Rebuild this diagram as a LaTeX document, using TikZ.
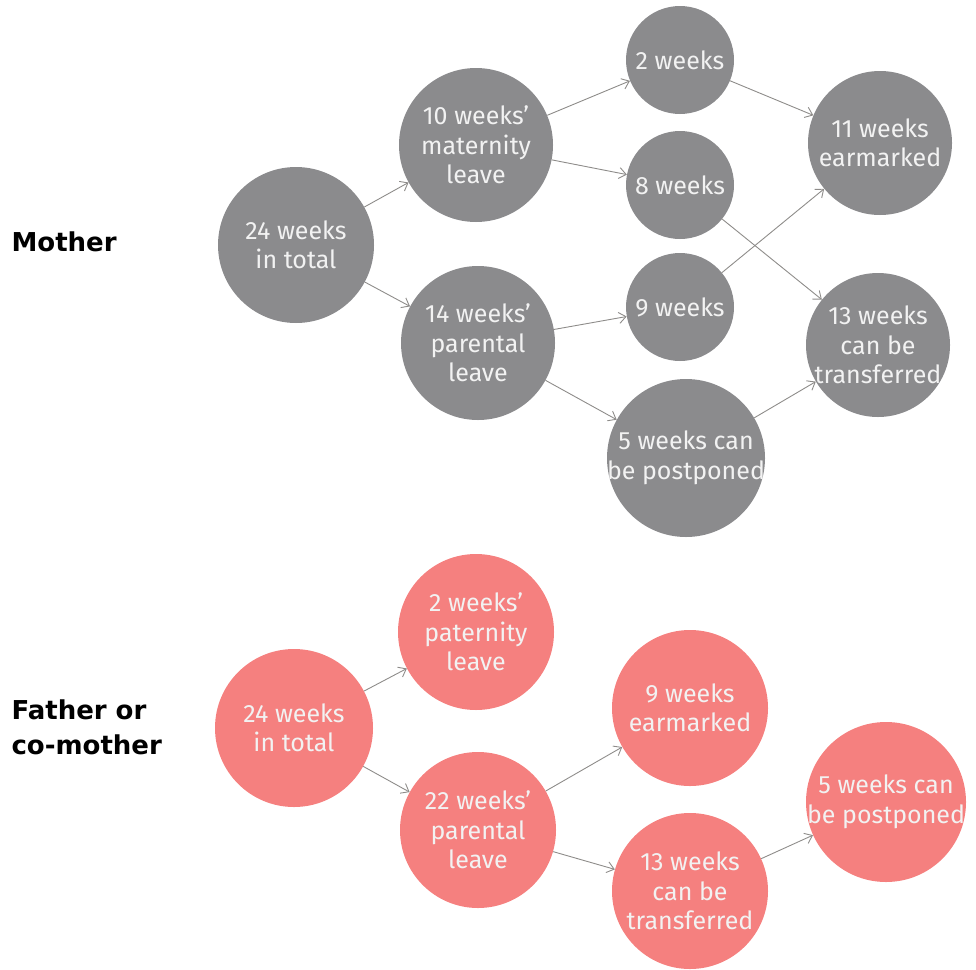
\documentclass[tikz,border=0pt]{standalone}
\usepackage{fontspec}
\setmainfont{Fira Sans}
\newfontfamily\headfont{DejaVu Sans}
\usetikzlibrary{arrows.meta}
\definecolor{momgrey}{HTML}{8B8B8D}
\definecolor{dadpink}{HTML}{F5807F}
\definecolor{linkgrey}{HTML}{8E8C8A}
\definecolor{bubbletext}{HTML}{F2F2F2}
\tikzset{
  bubbletext/.style={align=center, text=bubbletext, inner sep=0pt,
    font=\fontsize{25}{29.5}\selectfont},
  % the circle keeps its set size; the wording sits on it as a centred label
  bubble/.style 2 args={circle, inner sep=0pt, minimum size=#1,
    label={[bubbletext]center:#2}},
  mombubble/.style 2 args={bubble={#1}{#2}, fill=momgrey},
  dadbubble/.style 2 args={bubble={#1}{#2}, fill=dadpink},
  link/.style={draw=linkgrey, line width=0.9pt,
    -{Straight Barb[length=7pt,width=11pt]}},
  heading/.style={anchor=west, align=left, font=\headfont\bfseries\fontsize{26}{35}\selectfont}
}
\begin{document}
\begin{tikzpicture}[x=1pt,y=-1pt]
\useasboundingbox (0,0) rectangle (976,969);

% Mother
\node[heading] (mlabel) at (8,242) {Mother};
\node[mombubble={156pt}{24 weeks\\in total}] (m24) at (296,245) {};
\node[mombubble={154pt}{10 weeks'\\maternity\\leave}] (m10) at (476,145) {};
\node[mombubble={154pt}{14 weeks'\\parental\\leave}] (m14) at (478,343) {};
\node[mombubble={108pt}{2 weeks}] (m2) at (680,60) {};
\node[mombubble={108pt}{8 weeks}] (m8) at (680,185) {};
\node[mombubble={108pt}{9 weeks}] (m9) at (680,307) {};
\node[mombubble={158pt}{5 weeks can\\be postponed}] (m5) at (686,458) {};
\node[mombubble={144pt}{11 weeks\\earmarked}] (m11) at (880,143) {};
\node[mombubble={144pt}{13 weeks\\can be\\transferred}] (m13) at (878,345) {};

\draw[link] (m24) -- (m10);
\draw[link] (m24) -- (m14);
\draw[link] (m10) -- (m2);
\draw[link] (m10) -- (m8);
\draw[link] (m14) -- (m9);
\draw[link] (m14) -- (m5);
\draw[link] (m2) -- (m11);
\draw[link] (m8) -- (m13);
\draw[link] (m9) -- (m11);
\draw[link] (m5) -- (m13);

% Father or co-mother
\node[heading] (flabel) at (8,727) {Father or\\co-mother};
\node[dadbubble={158pt}{24 weeks\\in total}] (f24) at (294,728) {};
\node[dadbubble={156pt}{2 weeks'\\paternity\\leave}] (f2) at (476,632) {};
\node[dadbubble={156pt}{22 weeks'\\parental\\leave}] (f22) at (478,830) {};
\node[dadbubble={156pt}{9 weeks\\earmarked}] (f9) at (690,708) {};
\node[dadbubble={156pt}{13 weeks\\can be\\transferred}] (f13) at (690,891) {};
\node[dadbubble={160pt}{5 weeks can\\be postponed}] (f5) at (886,802) {};

\draw[link] (f24) -- (f2);
\draw[link] (f24) -- (f22);
\draw[link] (f22) -- (f9);
\draw[link] (f22) -- (f13);
\draw[link] (f13) -- (f5);
\end{tikzpicture}
\end{document}
